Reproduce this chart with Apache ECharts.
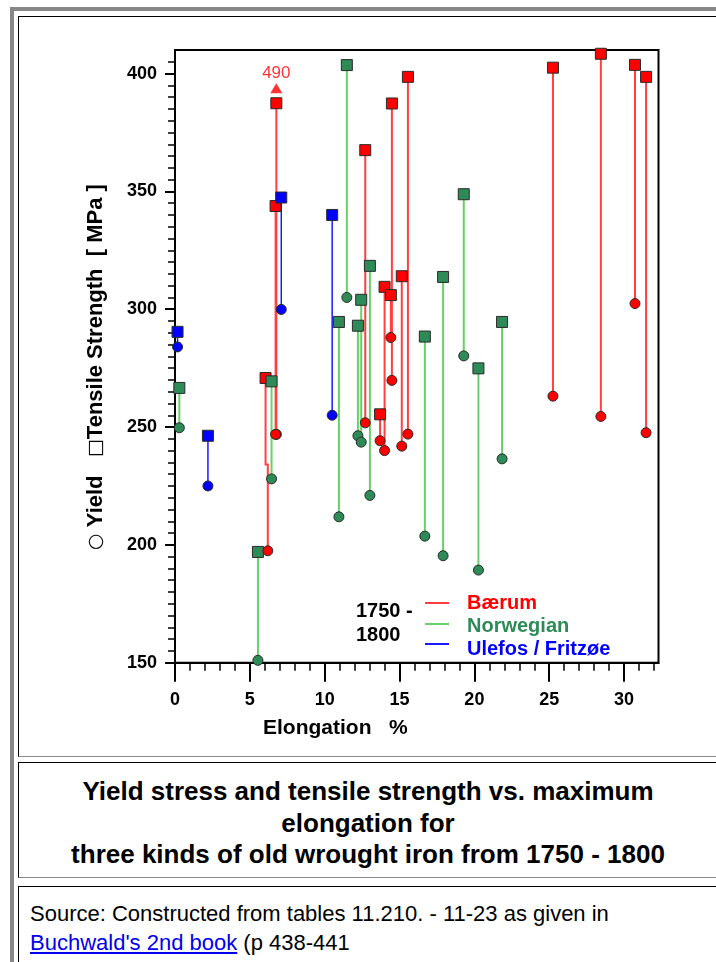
<!DOCTYPE html>
<html>
<head>
<meta charset="utf-8">
<script src="https://cdn.jsdelivr.net/npm/echarts@6/dist/echarts.min.js"></script>
<style>
html,body{margin:0;padding:0;width:716px;height:962px;overflow:hidden;background:#fff;font-family:'Liberation Sans',Arial,sans-serif;}
#outer{position:absolute;left:10px;top:7px;width:900px;height:1100px;border-left:4px solid #888;border-top:4px solid #888;}
.cell{position:absolute;left:18px;width:700px;border-left:1px solid #000;border-top:1px solid #000;border-right:1px solid #888;border-bottom:1px solid #888;box-sizing:border-box;}
#c1{top:16px;height:741px;}
#c2{top:762px;height:116px;text-align:center;font-weight:bold;font-size:26px;line-height:31.5px;padding-top:13px;color:#000;}
#c3{top:886px;height:120px;font-size:22px;line-height:29px;padding-top:12px;padding-left:11px;color:#000;}
#c3 a{color:#0000ee;text-decoration:underline;}
#chart{position:absolute;left:0;top:0;width:716px;height:962px;z-index:2;}
</style>
</head>
<body>
<div id="outer"></div>
<div class="cell" id="c1"></div>
<div class="cell" id="c2">Yield stress and tensile strength vs. maximum<br>elongation for<br>three kinds of old wrought iron from 1750 - 1800</div>
<div class="cell" id="c3">Source: Constructed from tables 11.210. - 11-23 as given in<br><a href="#">Buchwald's 2nd book</a> (p 438-441</div>
<div id="chart"></div>
<script>
// ---- axis ticks ----
const xTicks = [0, 5, 10, 15, 20, 25, 30];
const yTicks = [150, 200, 250, 300, 350, 400];

// ---- group names ----
const groupNames = ['Bærum', 'Norwegian', 'Ulefos / Fritzøe'];
const periodLabel = ['1750 -', '1800'];

// ---- Bærum (red) ----
const baerumElong      = [6.05, 6.77, 6.72, 12.71, 13.7, 14.0, 14.49, 14.42, 15.15, 15.56, 25.25, 28.45, 30.73, 31.47];
const baerumElongYield = [6.2,  6.77, 6.72, 12.71, 13.7, 14.0, 14.49, 14.42, 15.15, 15.56, 25.25, 28.45, 30.73, 31.47];
const baerumTensile    = [270.8, 387.4, 343.8, 367.5, 255.4, 309.5, 387.3, 306.0, 314.0, 398.6, 402.5, 408.4, 403.7, 398.6];
const baerumYield      = [197.5, 246.9, 246.9, 251.8, 244.2, 240.0, 269.8, 288.0, 241.9, 247.0, 263.1, 254.5, 302.4, 247.6];

// ---- Norwegian (green) ----
const norwElong   = [0.29, 5.54, 6.45, 10.95, 11.48, 12.22, 12.44, 13.02, 16.69, 17.91, 19.29, 20.27, 21.85];
const norwTensile = [266.6, 197.0, 269.4, 294.6, 403.6, 293.0, 304.0, 318.4, 288.4, 313.7, 348.8, 274.9, 294.6];
const norwYield   = [249.7, 151.0, 228.0, 211.9, 305.0, 246.3, 243.6, 221.0, 203.7, 195.4, 280.2, 189.3, 236.5];

// ---- Ulefos / Fritzøe (blue) ----
const ulefosElong   = [0.17, 2.2, 7.1, 10.5];
const ulefosTensile = [290.4, 246.3, 347.4, 340.0];
const ulefosYield   = [284.0, 225.0, 299.9, 255.0];

// ---- off-scale annotation (plotted at top, true value shown) ----
const annotElong   = [6.77];
const annotPlotted = [387.4];
const annotText    = ['490'];

const FONT = "'Liberation Sans', Arial, sans-serif";
const RED = '#ff0000', GREEN = '#2e8b57', BLUE = '#0000ff';
const RED_LINE = '#ff4040', GREEN_LINE = '#66d166', BLUE_LINE = '#1a1aff';

function stemSeries(name, xT, xY, T, Y, color, width) {
  return {
    type: 'custom', name: name, silent: true, z: 1,
    data: T.map((t, i) => [xT[i], t, xY[i], Y[i]]),
    encode: { x: [0, 2], y: [1, 3] },
    renderItem: function (params, api) {
      const xt = api.value(0), t = api.value(1), xy = api.value(2), y = api.value(3);
      const mid = (t + y) / 2;
      const pts = [api.coord([xt, t]), api.coord([xt, mid]), api.coord([xy, mid]), api.coord([xy, y])];
      return { type: 'polyline', shape: { points: pts }, style: { stroke: color, lineWidth: width, fill: 'none' } };
    }
  };
}
function markSeries(name, xs, vals, symbol, color, z) {
  return {
    type: 'scatter', name: name, silent: true, z: z,
    symbol: symbol, symbolSize: symbol === 'rect' ? 11 : 10,
    itemStyle: { color: color, borderColor: '#2a2a2a', borderWidth: 1, opacity: 1 },
    data: vals.map((v, i) => [xs[i], v])
  };
}

const chart = echarts.init(document.getElementById('chart'), null, { renderer: 'canvas' });

const legendGraphics = [];
const lineCols = [RED_LINE, GREEN_LINE, BLUE_LINE];
const textCols = [RED, GREEN, BLUE];
const legendLineY = [603, 624, 644];
const legendTextY = [603, 626, 649];
groupNames.forEach((n, i) => {
  legendGraphics.push({ type: 'line', shape: { x1: 425, y1: legendLineY[i], x2: 449, y2: legendLineY[i] }, style: { stroke: lineCols[i], lineWidth: 2 }, z: 10 });
  legendGraphics.push({ type: 'text', x: 467, y: legendTextY[i], style: { text: n, fill: textCols[i], font: 'bold 20px ' + FONT, textAlign: 'left', textVerticalAlign: 'middle' }, z: 10 });
});
legendGraphics.push({ type: 'text', x: 356, y: 611, style: { text: periodLabel[0], fill: '#000', font: 'bold 20px ' + FONT, textAlign: 'left', textVerticalAlign: 'middle' }, z: 10 });
legendGraphics.push({ type: 'text', x: 356, y: 635, style: { text: periodLabel[1], fill: '#000', font: 'bold 20px ' + FONT, textAlign: 'left', textVerticalAlign: 'middle' }, z: 10 });

const option = {
  animation: false,
  textStyle: { fontFamily: FONT },
  grid: { left: 175, top: 50, right: 57.5, bottom: 299.3, show: true, borderColor: '#000', borderWidth: 2, backgroundColor: 'transparent' },
  xAxis: {
    type: 'value', min: 0, max: 32.3, interval: 5,
    axisLine: { show: true, onZero: false, lineStyle: { color: '#000', width: 2 } },
    axisTick: { show: true, length: 19, customValues: xTicks, lineStyle: { color: '#000', width: 2 } },
    minorTick: { show: true, splitNumber: 5, length: 8, lineStyle: { color: '#000', width: 1.5 } },
    axisLabel: { customValues: xTicks, margin: 28, fontSize: 18, fontWeight: 'bold', color: '#000', fontFamily: FONT },
    splitLine: { show: false }
  },
  yAxis: {
    type: 'value', min: 150, max: 410, interval: 50,
    axisLine: { show: true, onZero: false, lineStyle: { color: '#000', width: 2 } },
    axisTick: { show: true, length: 10, customValues: yTicks, lineStyle: { color: '#000', width: 2 } },
    minorTick: { show: true, splitNumber: 10, length: 7, lineStyle: { color: '#000', width: 1.5 } },
    axisLabel: { customValues: yTicks, margin: 18, fontSize: 18, fontWeight: 'bold', color: '#000', fontFamily: FONT },
    splitLine: { show: false }
  },
  graphic: [
    { type: 'text', x: 263, y: 728, style: { text: 'Elongation   %', fill: '#000', font: 'bold 21px ' + FONT, textAlign: 'left', textVerticalAlign: 'middle' } },
    { type: 'text', x: 96, y: 367, rotation: Math.PI / 2,
      style: { text: '{s|○} Yield   {s|□}Tensile Strength  [ MPa ]', fill: '#000', font: 'bold 22px ' + FONT, align: 'center', verticalAlign: 'middle',
        rich: { s: { fontSize: 19, fontWeight: 'normal', fontFamily: 'DejaVu Sans', fill: '#000' } } } }
  ].concat(legendGraphics),
  series: [
    stemSeries('Bærum', baerumElong, baerumElongYield, baerumTensile, baerumYield, RED_LINE, 2),
    stemSeries('Norwegian', norwElong, norwElong, norwTensile, norwYield, GREEN_LINE, 2),
    stemSeries('Ulefos / Fritzøe', ulefosElong, ulefosElong, ulefosTensile, ulefosYield, BLUE_LINE, 1.5),
    markSeries('Bærum T', baerumElong, baerumTensile, 'rect', RED, 3),
    markSeries('Norwegian T', norwElong, norwTensile, 'rect', GREEN, 3),
    markSeries('Ulefos T', ulefosElong, ulefosTensile, 'rect', BLUE, 3),
    markSeries('Bærum Y', baerumElongYield, baerumYield, 'circle', RED, 4),
    markSeries('Norwegian Y', norwElong, norwYield, 'circle', GREEN, 4),
    markSeries('Ulefos Y', ulefosElong, ulefosYield, 'circle', BLUE, 4),
    {
      type: 'scatter', name: 'off-scale', silent: true, z: 5,
      symbol: 'triangle', symbolSize: [12, 10], symbolOffset: [0, -15],
      itemStyle: { color: RED },
      label: { show: true, position: 'top', distance: 1, color: RED, fontSize: 17, fontFamily: FONT,
        formatter: (p) => annotText[p.dataIndex] },
      data: annotPlotted.map((v, i) => [annotElong[i], v])
    }
  ]
};
chart.setOption(option);
</script>
</body>
</html>
